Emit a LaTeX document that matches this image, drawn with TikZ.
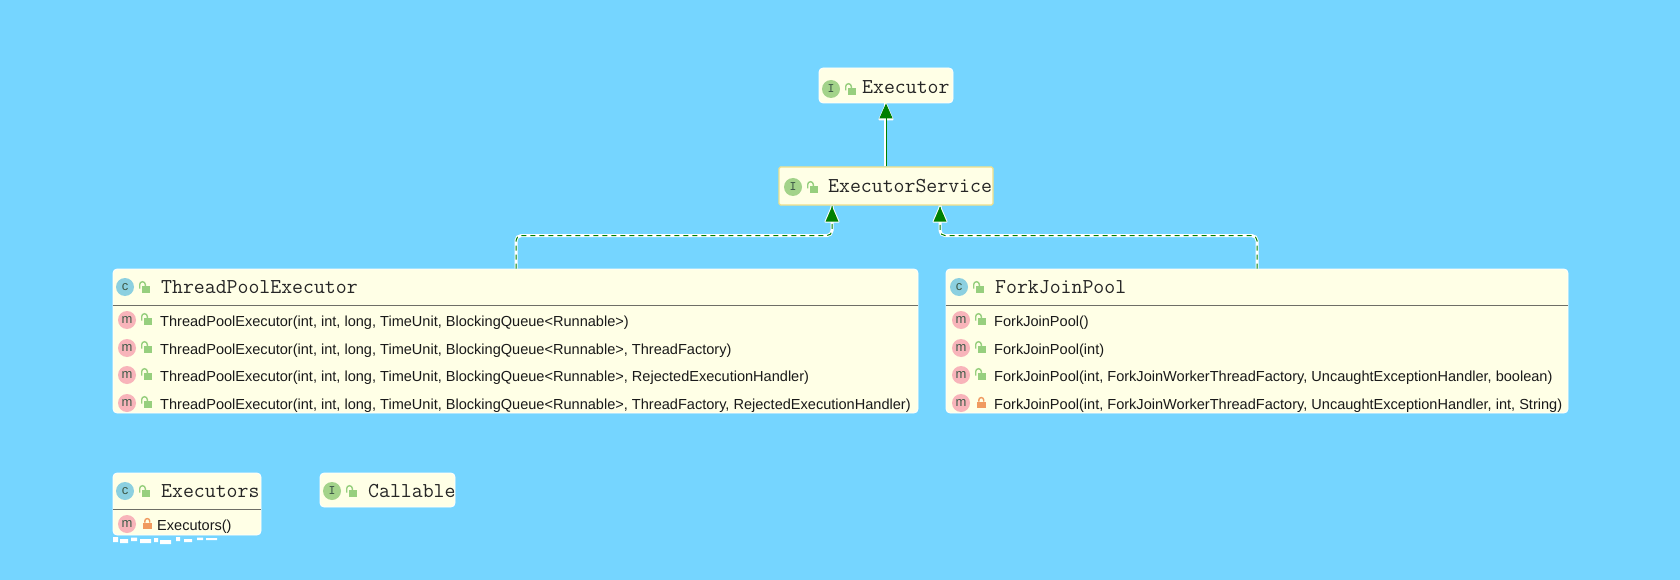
\documentclass[tikz,border=0pt]{standalone}
\usepackage{fontspec}
\setmainfont{Liberation Sans}
\usetikzlibrary{arrows.meta}
\definecolor{bgblue}{HTML}{75D5FF}
\definecolor{boxfill}{HTML}{FFFFE6}
\definecolor{selborder}{HTML}{EFE08A}
\definecolor{iconI}{HTML}{A3D38A}
\definecolor{iconC}{HTML}{8CD0E0}
\definecolor{iconM}{HTML}{F8B4BA}
\definecolor{lockgreen}{HTML}{97CF7E}
\definecolor{lockorange}{HTML}{F09A60}
\definecolor{arrowgreen}{HTML}{008000}
\definecolor{icontext}{HTML}{3E5A48}
\definecolor{rulegrey}{HTML}{6E6E66}
\tikzset{
  x=1pt,y=-1pt,
  umlbox/.style={fill=boxfill,rounded corners=4pt,inner sep=0pt,draw=white,line width=.8pt},
  selbox/.style={fill=boxfill,rounded corners=1.5pt,inner sep=0pt,draw=selborder,line width=1.2pt},
  title/.style={anchor=base west,inner sep=0pt,font=\ttfamily\fontsize{21.2}{23}\selectfont,text=black!85},
  method/.style={anchor=base west,inner sep=0pt,font=\fontsize{14.55}{17}\selectfont,text=black!90},
  badge/.style={circle,minimum size=18pt,inner sep=0pt,text=icontext},
  halo/.style={draw=white,line width=3pt},
  solidrel/.style={draw=arrowgreen,line width=.9pt},
  dashrel/.style={draw=arrowgreen,line width=1pt,dash pattern=on 5pt off 4pt,rounded corners=5pt},
  head/.style={-{Triangle[length=15pt,width=13pt,fill=arrowgreen]}},
  tiphalo/.style={fill=white,draw=white,line width=2pt,line join=round},
}
\newcommand{\openlock}[2]{%
  \fill[lockgreen] (#1+3,#2-2) rectangle (#1+11,#2+5);
  \draw[lockgreen,line width=1.4pt] (#1+.7,#2+.5) -- (#1+.7,#2-3.5) arc[start angle=180,end angle=360,x radius=2.8pt,y radius=-2.8pt] -- (#1+6.3,#2-2);
}
\newcommand{\closedlock}[2]{%
  \fill[lockorange] (#1,#2-1.5) rectangle (#1+8.5,#2+5);
  \draw[lockorange,line width=1.4pt] (#1+1.8,#2-1.5) -- (#1+1.8,#2-3) arc[start angle=180,end angle=360,x radius=2.45pt,y radius=-2.45pt] -- (#1+6.7,#2-1.5);
}
\newcommand{\ibadge}[3]{\node[badge,fill=iconI,font=\ttfamily\bfseries\fontsize{13}{13}\selectfont] (#1) at (#2,#3) {I};}
\newcommand{\cbadge}[3]{\node[badge,fill=iconC,font=\fontsize{13}{13}\selectfont] (#1) at (#2,#3) {c};}
\newcommand{\mbadge}[3]{\node[badge,fill=iconM,font=\fontsize{13}{13}\selectfont] (#1) at (#2,#3) {m};}
\begin{document}
\begin{tikzpicture}
\useasboundingbox (0,0) rectangle (1680,580);
\fill[bgblue] (0,0) rectangle (1680,580);

% boxes
\node[umlbox,minimum width=134pt,minimum height=35pt] (executor) at (886,85.5) {};
\node[selbox,minimum width=214pt,minimum height=38pt] (service) at (886,186) {};
\node[umlbox,minimum width=805pt,minimum height=144pt] (tpe) at (515.5,341) {};
\node[umlbox,minimum width=622pt,minimum height=144pt] (fjp) at (1257,341) {};
\node[umlbox,minimum width=148pt,minimum height=62pt] (executors) at (187,504) {};
\node[umlbox,minimum width=135pt,minimum height=34pt] (callable) at (387.5,490) {};

% scan artefacts under Executors
\fill[white] (113,537) rectangle (118,542) (120,539) rectangle (128,543) (131,537.5) rectangle (137,541)
  (140,539) rectangle (151,543) (154,538) rectangle (158,542) (160,540) rectangle (171,544)
  (176,537) rectangle (180,541) (184,539) rectangle (192,542) (197,537.5) rectangle (203,540)
  (206,538) rectangle (217,540);

% anchors
\coordinate (execS) at (executor.south);
\coordinate (servN) at (service.north);
\coordinate (servL) at ([xshift=-54pt]service.south);
\coordinate (servR) at ([xshift=54pt]service.south);
\coordinate (tpeN) at ([xshift=.5pt]tpe.north);
\coordinate (fjpN) at (fjp.north);

% connectors: white halo, then green line
\fill[tiphalo] (execS) ++(0,1) -- ++(6.5,15) -- ++(-13,0) -- cycle;
\fill[tiphalo] (servL) ++(0,1) -- ++(6.5,15) -- ++(-13,0) -- cycle;
\fill[tiphalo] (servR) ++(0,1) -- ++(6.5,15) -- ++(-13,0) -- cycle;
\draw[halo] ([xshift=-1pt]servN) -- ([xshift=-1pt]execS);
\draw[halo,rounded corners=5pt] (tpeN) -- ++(0,-33) -| (servL);
\draw[halo,rounded corners=5pt] (fjpN) -- ++(0,-33) -| (servR);
\draw[solidrel,head] (servN) -- (execS);
\draw[dashrel] (tpeN) -- ++(0,-33) -| (servL);
\draw[dashrel] (fjpN) -- ++(0,-33) -| (servR);
\fill[arrowgreen] (servL) ++(0,1) -- ++(6.5,15) -- ++(-13,0) -- cycle;
\fill[arrowgreen] (servR) ++(0,1) -- ++(6.5,15) -- ++(-13,0) -- cycle;

% rules
\draw[rulegrey,line width=1pt] (tpe.west |- 0,305) -- (tpe.east |- 0,305);
\draw[rulegrey,line width=1pt] (fjp.west |- 0,305) -- (fjp.east |- 0,305);
\draw[rulegrey,line width=1pt] (executors.west |- 0,509) -- (executors.east |- 0,509);

% Executor
\ibadge{iExec}{831}{89} \openlock{845}{90}
\node[title] (tExec) at (862,93.5) {Executor};
% ExecutorService
\ibadge{iServ}{793}{187} \openlock{807}{188}
\node[title] (tServ) at (828,193) {ExecutorService};
% ThreadPoolExecutor
\cbadge{cTpe}{125}{287} \openlock{139}{288}
\node[title] (tTpe) at (161,293) {ThreadPoolExecutor};
\mbadge{m1}{127}{320} \openlock{141}{320}
\node[method] (t1) at (160,326) {ThreadPoolExecutor(int, int, long, TimeUnit, BlockingQueue<Runnable>)};
\mbadge{m2}{127}{348} \openlock{141}{348}
\node[method] (t2) at (160,354) {ThreadPoolExecutor(int, int, long, TimeUnit, BlockingQueue<Runnable>, ThreadFactory)};
\mbadge{m3}{127}{375} \openlock{141}{375}
\node[method] (t3) at (160,381.5) {ThreadPoolExecutor(int, int, long, TimeUnit, BlockingQueue<Runnable>, RejectedExecutionHandler)};
\mbadge{m4}{127}{403} \openlock{141}{403}
\node[method] (t4) at (160,409) {ThreadPoolExecutor(int, int, long, TimeUnit, BlockingQueue<Runnable>, ThreadFactory, RejectedExecutionHandler)};
% ForkJoinPool
\cbadge{cFjp}{959}{287} \openlock{973}{288}
\node[title] (tFjp) at (995,293) {ForkJoinPool};
\mbadge{f1}{961}{320} \openlock{975}{320}
\node[method] (u1) at (994,326) {ForkJoinPool()};
\mbadge{f2}{961}{348} \openlock{975}{348}
\node[method] (u2) at (994,354) {ForkJoinPool(int)};
\mbadge{f3}{961}{375} \openlock{975}{375}
\node[method] (u3) at (994,381.5) {ForkJoinPool(int, ForkJoinWorkerThreadFactory, UncaughtExceptionHandler, boolean)};
\mbadge{f4}{961}{403} \closedlock{977}{403}
\node[method] (u4) at (994,409) {ForkJoinPool(int, ForkJoinWorkerThreadFactory, UncaughtExceptionHandler, int, String)};
% Executors
\cbadge{cExs}{125}{491} \openlock{139}{492}
\node[title] (tExs) at (161,497) {Executors};
\mbadge{e1}{127}{524} \closedlock{143}{524}
\node[method] (v1) at (157,530) {Executors()};
% Callable
\ibadge{iCal}{332}{491} \openlock{346}{492}
\node[title] (tCal) at (368,497) {Callable};
\end{tikzpicture}
\end{document}
